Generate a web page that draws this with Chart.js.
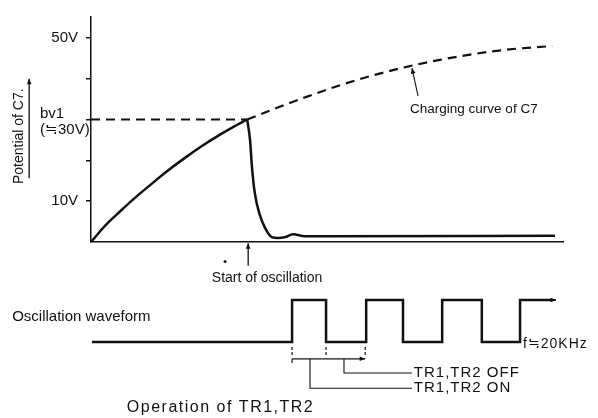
<!DOCTYPE html>
<html>
<head>
<meta charset="utf-8">
<script src="https://cdn.jsdelivr.net/npm/chart.js@4.4.1/dist/chart.umd.min.js"></script>
<style>
  html, body { margin: 0; padding: 0; background: #fff; }
  #wrap { position: relative; width: 598px; height: 418px; }
  #wrap canvas { position: absolute; left: 0; top: 0; }
</style>
</head>
<body>
<div id="wrap">
  <canvas id="potChart" width="598" height="418"></canvas>
  <canvas id="waveChart" width="598" height="418"></canvas>
</div>
<script>
// time axis is in arbitrary units (0..100), voltage in V
const yTicks = [10, 20, 30, 40, 50];
const yTickLabels = { 10: '10V', 50: '50V' };

// C7 potential, rising until oscillation starts
const chargeT = [0, 3.0, 5.7, 9.3, 12.9, 16.3, 19.9, 23.5, 26.9, 30.5, 33.1];
const chargeV = [0, 4.0, 7.0, 10.8, 14.3, 17.5, 20.6, 23.5, 26.0, 28.4, 30];

// C7 potential after oscillation starts
const dropT = [33.1, 33.7, 34.1, 34.7, 35.8, 36.9, 38.3, 39.6, 41.1, 42.8, 45.3, 49.6, 98.3];
const dropV = [30, 24.9, 18.4, 12, 6.5, 3.4, 1.2, 1.0, 1.2, 1.9, 1.4, 1.4, 1.5];

// charging curve of C7 (dashed)
const curveT = [33.1, 38.6, 45.8, 52.8, 59.7, 66.9, 73.9, 80.9, 88.1, 97.7];
const curveV = [30, 32.5, 35.6, 38.4, 40.8, 42.9, 44.6, 46.0, 47.1, 48.0];

const bv1 = 30;
const oscStartT = 33.3;

// oscillation waveform: edge times and the level after each edge
const waveT = [0.2, 42.6, 49.8, 58.3, 66.1, 74.4, 82.8, 90.9, 97.9];
const waveLevel = [0, 1, 0, 1, 0, 1, 0, 1, 1];

// TR1,TR2 operation marks
const periodT = [42.6, 49.8, 58.1];
const onT = 46.4;
const offT = 53.6;
const bracketEndT = 68.0;

const ink = '#111';
const family = '"Liberation Sans", Arial, Helvetica, sans-serif';

function pts(xs, ys) {
    return xs.map((x, i) => ({ x: x, y: ys[i] }));
}

function arrow(ctx, x1, y1, x2, y2, w, head) {
    ctx.lineWidth = w;
    ctx.beginPath();
    ctx.moveTo(x1, y1);
    ctx.lineTo(x2, y2);
    ctx.stroke();
    const a = Math.atan2(y2 - y1, x2 - x1);
    ctx.beginPath();
    ctx.moveTo(x2, y2);
    ctx.lineTo(x2 - head * Math.cos(a - 0.4), y2 - head * Math.sin(a - 0.4));
    ctx.lineTo(x2 - head * Math.cos(a + 0.4), y2 - head * Math.sin(a + 0.4));
    ctx.closePath();
    ctx.fill();
}

function label(ctx, str, x, y, align, size) {
    ctx.font = size + 'px ' + family;
    ctx.textAlign = align;
    ctx.textBaseline = 'middle';
    ctx.fillText(str, x, y);
}

// texts and arrows of the upper chart
const potNotes = {
    id: 'potNotes',
    afterDraw(chart) {
        const { ctx, scales: { x, y } } = chart;
        const px = t => x.getPixelForValue(t);
        const py = v => y.getPixelForValue(v);
        ctx.save();
        ctx.fillStyle = ink;
        ctx.strokeStyle = ink;

        ctx.save();
        ctx.translate(px(-15.2), py(25.9));
        ctx.rotate(-Math.PI / 2);
        label(ctx, 'Potential of C7.', 0, 0, 'center', 14);
        ctx.restore();
        arrow(ctx, px(-13.1), py(15.6), px(-13.1), py(40), 1.3, 6);

        label(ctx, 'bv1', px(-10.8), py(31.4), 'left', 15);
        label(ctx, '(≒30V)', px(-10.8), py(27.4), 'left', 15);

        arrow(ctx, px(oscStartT), py(-5.8), px(oscStartT), py(-0.3), 1.3, 6);
        ctx.beginPath();
        ctx.arc(px(28.4), py(-4.8), 1.5, 0, Math.PI * 2);
        ctx.fill();
        label(ctx, 'Start of oscillation', px(37.3), py(-8.9), 'center', 14);

        arrow(ctx, px(69.3), py(35.7), px(68.0), py(42.6), 1.1, 6);
        label(ctx, 'Charging curve of C7', px(67.6), py(32.6), 'left', 13.5);
        ctx.restore();
    }
};

// texts, brackets and arrows of the lower diagram
const waveNotes = {
    id: 'waveNotes',
    afterDraw(chart) {
        const { ctx, scales: { x, y } } = chart;
        const px = t => x.getPixelForValue(t);
        const py = v => y.getPixelForValue(v);
        ctx.save();
        ctx.fillStyle = ink;
        ctx.strokeStyle = ink;

        // arrow at the end of the waveform
        const last = waveT.length - 1;
        arrow(ctx, px(waveT[last] - 1), py(waveLevel[last]), px(waveT[last] + 0.6), py(waveLevel[last]), 2, 6);

        // period marks
        ctx.lineWidth = 1.2;
        ctx.setLineDash([3, 2]);
        periodT.forEach(t => {
            ctx.beginPath();
            ctx.moveTo(px(t), py(-0.12));
            ctx.lineTo(px(t), py(-0.31));
            ctx.stroke();
        });
        ctx.setLineDash([]);
        arrow(ctx, px(periodT[0]), py(-0.4), px(periodT[2]), py(-0.4), 1.2, 6);
        ctx.beginPath();
        ctx.moveTo(px(periodT[0]), py(-0.4));
        ctx.lineTo(px(periodT[0]), py(-0.5));
        ctx.stroke();

        ctx.lineWidth = 1.1;
        ctx.beginPath();
        ctx.moveTo(px(offT), py(-0.4));
        ctx.lineTo(px(offT), py(-0.74));
        ctx.lineTo(px(bracketEndT), py(-0.74));
        ctx.moveTo(px(onT), py(-0.4));
        ctx.lineTo(px(onT), py(-1.1));
        ctx.lineTo(px(bracketEndT), py(-1.1));
        ctx.stroke();

        ctx.letterSpacing = '1px';
        label(ctx, 'TR1,TR2 OFF', px(bracketEndT + 0.4), py(-0.74), 'left', 15);
        label(ctx, 'TR1,TR2 ON', px(bracketEndT + 0.4), py(-1.1), 'left', 15);
        label(ctx, 'f≒20KHz', px(91.5), py(-0.05), 'left', 14);
        ctx.letterSpacing = '1.5px';
        label(ctx, 'Operation of TR1,TR2', px(7.6), py(-1.57), 'left', 16);
        ctx.letterSpacing = '0px';
        label(ctx, 'Oscillation waveform', px(-16.7), py(0.6), 'left', 15);
        ctx.restore();
    }
};

new Chart(document.getElementById('potChart'), {
    type: 'line',
    data: {
        datasets: [
            { label: 'Potential of C7', data: pts(chargeT, chargeV), borderColor: ink, borderWidth: 2.5, tension: 0.4 },
            { label: 'Potential of C7 (after start)', data: pts(dropT, dropV), borderColor: ink, borderWidth: 2.5, cubicInterpolationMode: 'monotone' },
            { label: 'Charging curve of C7', data: pts(curveT, curveV), borderColor: ink, borderWidth: 2.2, borderDash: [9, 6], cubicInterpolationMode: 'monotone' },
            { label: 'bv1', data: pts([0, 33.1], [bv1, bv1]), borderColor: ink, borderWidth: 2, borderDash: [9, 6] }
        ]
    },
    options: {
        responsive: false,
        animation: false,
        events: [],
        elements: { point: { radius: 0 } },
        layout: { padding: { left: 0, right: 35, top: 12, bottom: 176 } },
        plugins: { legend: { display: false }, tooltip: { enabled: false } },
        scales: {
            x: {
                type: 'linear', min: 0, max: 100,
                grid: { display: false },
                ticks: { display: false },
                border: { display: true, color: ink, width: 1.5 },
                afterFit(scale) { scale.height = 0; }
            },
            y: {
                type: 'linear', min: 0, max: 55.1,
                afterFit(scale) { scale.width = 91; },
                afterBuildTicks(scale) { scale.ticks = yTicks.map(v => ({ value: v })); },
                grid: { drawOnChartArea: false, tickLength: 5, color: ink, lineWidth: 1.5 },
                border: { color: ink, width: 1.5 },
                ticks: {
                    padding: 8,
                    color: ink,
                    font: { family: family, size: 15 },
                    callback: v => yTickLabels[v] || ''
                }
            }
        }
    },
    plugins: [potNotes]
});

new Chart(document.getElementById('waveChart'), {
    type: 'line',
    data: {
        datasets: [
            { label: 'Oscillation waveform', data: pts(waveT, waveLevel), borderColor: ink, borderWidth: 2.5, stepped: 'before' }
        ]
    },
    options: {
        responsive: false,
        animation: false,
        events: [],
        elements: { point: { radius: 0 } },
        layout: { padding: { left: 91, right: 35, top: 0, bottom: 0 } },
        plugins: { legend: { display: false }, tooltip: { enabled: false } },
        scales: {
            x: { type: 'linear', min: 0, max: 100, display: false },
            y: { type: 'linear', min: -1.81, max: 8.143, display: false }
        }
    },
    plugins: [waveNotes]
});
</script>
</body>
</html>
